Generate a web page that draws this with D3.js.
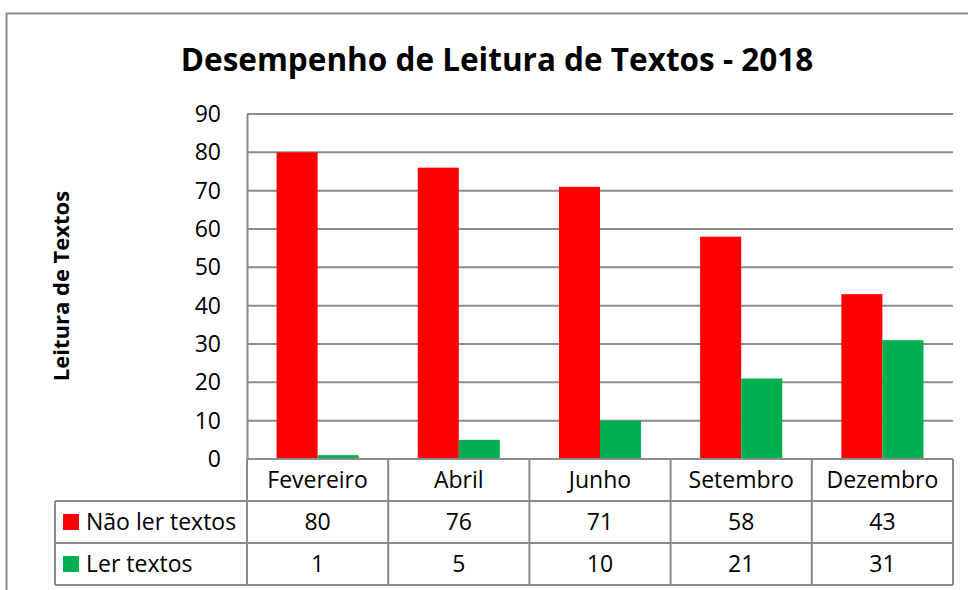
<!DOCTYPE html>
<html>
<head>
<meta charset="utf-8">
<script src="https://cdn.jsdelivr.net/npm/d3@7"></script>
<style>
  html, body { margin: 0; padding: 0; background: #fff; }
  svg { display: block; font-family: "Open Sans", sans-serif; }
</style>
</head>
<body>
<div id="chart"></div>
<script>
const categories = ["Fevereiro", "Abril", "Junho", "Setembro", "Dezembro"];
const seriesNames = ["Não ler textos", "Ler textos"];
const naoLer = [80, 76, 71, 58, 43];
const ler = [1, 5, 10, 21, 31];
const yTicks = [0, 10, 20, 30, 40, 50, 60, 70, 80, 90];
const colors = ["#ff0000", "#00b050"];

const w = 968, h = 590;
const gridColor = "#8c8c8c";
const fontSize = "23px";
const margin = { left: 247, right: 15, top: 114, bottom: 131 };
const rowH = 42;

const svg = d3.select("#chart").append("svg")
  .attr("width", w)
  .attr("height", h);

// outer frame
svg.append("rect")
  .attr("x", 6.5).attr("y", 13.5)
  .attr("width", w + 20).attr("height", h + 20)
  .attr("fill", "none")
  .attr("stroke", gridColor)
  .attr("stroke-width", 2);

svg.append("text")
  .attr("x", 497).attr("y", 71)
  .attr("text-anchor", "middle")
  .attr("font-size", "31.5px")
  .attr("font-weight", "bold")
  .text("Desempenho de Leitura de Textos - 2018");

const xScale = d3.scaleBand()
  .domain(categories)
  .range([margin.left, w - margin.right])
  .padding(0);

const xInner = d3.scaleBand()
  .domain(seriesNames)
  .range([0, xScale.bandwidth()])
  .paddingInner(0)
  .paddingOuter(0.72);

const yScale = d3.scaleLinear()
  .domain([0, 90])
  .range([h - margin.bottom, margin.top]);

// gridlines
svg.append("g")
  .selectAll("line")
  .data(yTicks.filter(t => t > 0))
  .join("line")
  .attr("x1", margin.left).attr("x2", w - margin.right)
  .attr("y1", d => yScale(d)).attr("y2", d => yScale(d))
  .attr("stroke", gridColor)
  .attr("stroke-width", 2);

// y axis
const yAxis = svg.append("g")
  .attr("transform", `translate(${margin.left},0)`)
  .call(d3.axisLeft(yScale).tickValues(yTicks).tickSize(0).tickPadding(26));
yAxis.select(".domain").attr("stroke", gridColor).attr("stroke-width", 2);
yAxis.selectAll("text")
  .attr("font-size", fontSize)
  .attr("font-family", "'Open Sans', sans-serif")
  .attr("fill", "#000");

svg.append("text")
  .attr("transform", `translate(69,${286}) rotate(-90)`)
  .attr("text-anchor", "middle")
  .attr("font-size", "22px")
  .attr("font-weight", "bold")
  .text("Leitura de Textos");

// bars
const series = [naoLer, ler];
const groups = svg.append("g")
  .selectAll("g")
  .data(categories)
  .join("g")
  .attr("transform", d => `translate(${xScale(d)},0)`);

groups.selectAll("rect")
  .data((d, i) => series.map((s, j) => ({ name: seriesNames[j], value: s[i], color: colors[j] })))
  .join("rect")
  .attr("x", d => xInner(d.name))
  .attr("width", xInner.bandwidth())
  .attr("y", d => yScale(d.value))
  .attr("height", d => yScale(0) - yScale(d.value))
  .attr("fill", d => d.color);

// data table
const tableTop = yScale(0);
const legendLeft = 55;
const x0 = margin.left, x1 = w - margin.right;
const table = svg.append("g");

const hLines = [
  { y: tableTop, a: x0 },
  { y: tableTop + rowH, a: legendLeft },
  { y: tableTop + rowH * 2, a: legendLeft },
  { y: tableTop + rowH * 3, a: legendLeft }
];
table.selectAll(".h")
  .data(hLines)
  .join("line")
  .attr("x1", d => d.a).attr("x2", x1)
  .attr("y1", d => d.y).attr("y2", d => d.y)
  .attr("stroke", gridColor).attr("stroke-width", 2);

const vLines = categories.map(c => xScale(c)).concat([x1]);
table.selectAll(".v")
  .data(vLines)
  .join("line")
  .attr("x1", d => d).attr("x2", d => d)
  .attr("y1", tableTop).attr("y2", tableTop + rowH * 3)
  .attr("stroke", gridColor).attr("stroke-width", 2);
table.append("line")
  .attr("x1", legendLeft).attr("x2", legendLeft)
  .attr("y1", tableTop + rowH).attr("y2", tableTop + rowH * 3)
  .attr("stroke", gridColor).attr("stroke-width", 2);

table.selectAll(".cat")
  .data(categories)
  .join("text")
  .attr("x", d => xScale(d) + xScale.bandwidth() / 2)
  .attr("y", tableTop + rowH / 2 + 8)
  .attr("text-anchor", "middle")
  .attr("font-size", fontSize)
  .text(d => d);

series.forEach((s, j) => {
  const cy = tableTop + rowH * (j + 1) + rowH / 2;
  table.append("rect")
    .attr("x", 63).attr("y", cy - 8)
    .attr("width", 16).attr("height", 16)
    .attr("fill", colors[j]);
  table.append("text")
    .attr("x", 86).attr("y", cy + 7.5)
    .attr("font-size", fontSize)
    .text(seriesNames[j]);
  table.selectAll(`.v${j}`)
    .data(s)
    .join("text")
    .attr("x", (d, i) => xScale(categories[i]) + xScale.bandwidth() / 2)
    .attr("y", cy + 7.5)
    .attr("text-anchor", "middle")
    .attr("font-size", fontSize)
    .text(d => d);
});
</script>
</body>
</html>
